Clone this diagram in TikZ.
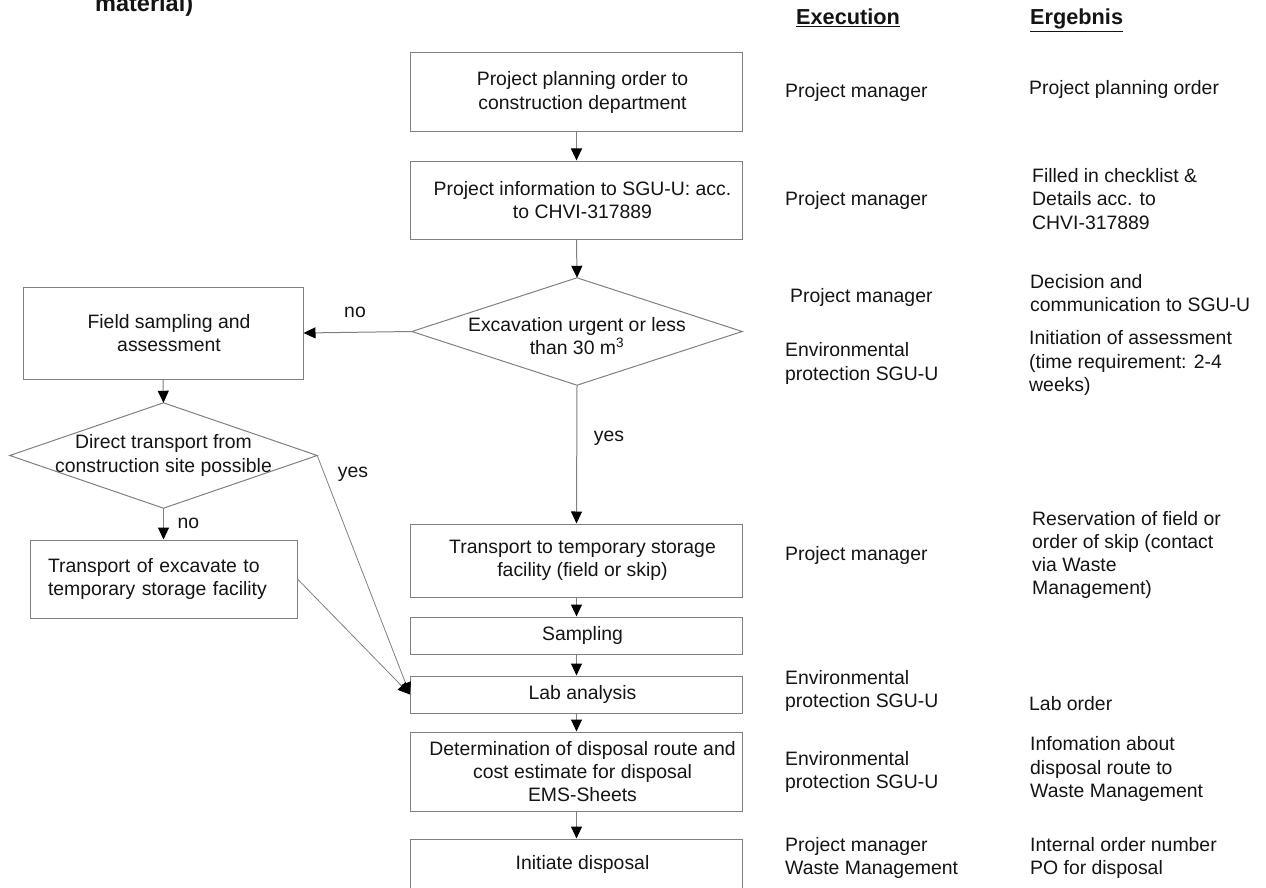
\documentclass[tikz,border=0pt]{standalone}
\usepackage{fontspec}
\setmainfont{Liberation Sans}
\usetikzlibrary{arrows.meta}
\definecolor{ln}{gray}{0.5}
\definecolor{tx}{gray}{0.08}
\newcommand\tsh{\hspace*{12pt}}
\tikzset{
  basefont/.style={font=\fontsize{19.4}{23.3}\selectfont, text=tx},
  box/.style={basefont, draw=ln, line width=1pt, minimum width=332pt, align=center, inner sep=0pt},
  dia/.style={basefont, align=center, inner sep=0pt},
  diaedge/.style={draw=ln, line width=1pt, line join=miter},
  arr/.style={draw=ln, line width=1pt, -{Triangle[length=12pt,width=11pt,color=black]}},
  conn/.style={draw=ln, line width=0.8pt, -{Triangle[length=12pt,width=11pt,color=black]}},
  lbl/.style={basefont, anchor=west, align=left, inner sep=0pt},
  tag/.style={basefont, inner sep=0pt},
  head/.style={font=\fontsize{21.7}{26}\selectfont\bfseries, text=tx, anchor=base west, inner sep=0pt}
}
\begin{document}
\begin{tikzpicture}[x=1pt,y=-1pt]
\useasboundingbox (0,0) rectangle (1266,888);
\clip (0,0) rectangle (1266,888);

% heading remnants
\node[font=\fontsize{23.5}{28}\selectfont\bfseries, text=tx, anchor=base west, inner sep=0pt] (title) at (95,11.5) {material)};
\node[head] (hexec) at (796,25) {\underline{Execution}};
\node[head] (hres) at (1030,25) {\underline{Ergebnis}};

% main column
\node[box, minimum height=79pt] (b1) at (576.5,92.5) {\tsh Project planning order to\\\tsh construction department};
\node[box, minimum height=78pt] (b2) at (576.5,200) {\tsh Project information to SGU-U: acc.\\\tsh to CHVI-317889};
\node[dia, minimum width=330pt, minimum height=107pt] (d1) at (577,331.5) {\mbox{}\\Excavation urgent or less\\than 30 m\textsuperscript{3}};
\draw[diaedge] (d1.north) -- (d1.east) -- (d1.south) -- (d1.west) -- cycle;
\node[box, minimum height=73pt] (tr) at (576.5,560.5) {\tsh Transport to temporary storage\\\tsh facility (field or skip)};
\node[box, minimum height=37pt] (samp) at (576.5,635.5) {\tsh Sampling};
\node[box, minimum height=37pt] (lab) at (576.5,694.5) {\tsh Lab analysis};
\node[box, minimum height=79pt] (det) at (576.5,771.5) {\tsh Determination of disposal route and\\\tsh cost estimate for disposal\\\tsh EMS-Sheets};
\node[box, minimum height=50pt] (init) at (576.5,864) {\tsh Initiate disposal};

% left column
\node[box, minimum width=280pt, minimum height=92pt] (field) at (163,333) {\tsh Field sampling and\\\tsh assessment};
\node[dia, minimum width=307pt, minimum height=105pt] (d2) at (163.5,455.5) {Direct transport from\\construction site possible};
\draw[diaedge] (d2.north) -- (d2.east) -- (d2.south) -- (d2.west) -- cycle;
\node[box, minimum width=267pt, minimum height=78pt, text width=231pt, align=left] (tb) at (163.5,579) {Transport of excavate to\\temporary storage facility};

% connectors
\draw[arr] (b1.south) -- (b2.north);
\draw[arr] (b2.south) -- (d1.north);
\draw[arr] (d1.south) -- (tr.north);
\draw[arr] (tr.south) -- (samp.north);
\draw[arr] (samp.south) -- (lab.north);
\draw[arr] (lab.south) -- (det.north);
\draw[arr] (det.south) -- (init.north);
\draw[arr] (d1.west) -- (field.east);
\draw[arr] (field.south) -- (d2.north);
\draw[arr] (d2.south) -- (tb.north);
\draw[conn] (d2.east) -- (lab.west);
\draw[conn] (tb.east) -- (lab.west);

% connector labels
\node[tag] (lno1) at (355,312) {no};
\node[tag] (lyes1) at (609,438) {yes};
\node[tag] (lno2) at (188.5,523) {no};
\node[tag] (lyes2) at (353,474) {yes};

% Execution column
\node[lbl] (e1) at (785,92) {Project manager};
\node[lbl] (e2) at (785,200) {Project manager};
\node[lbl] (e3) at (790,297) {Project manager};
\node[lbl] (e4) at (785,363.5) {Environmental\\protection SGU-U};
\node[lbl] (e5) at (785,555) {Project manager};
\node[lbl] (e6) at (785,691) {Environmental\\protection SGU-U};
\node[lbl] (e7) at (785,772) {Environmental\\protection SGU-U};
\node[lbl] (e8) at (785,858) {Project manager\\Waste Management};

% Ergebnis column
\node[lbl] (r1) at (1029,89) {Project planning order};
\node[lbl] (r2) at (1032,199) {Filled in checklist \&\\Details acc. to\\CHVI-317889};
\node[lbl] (r3) at (1030,293) {Decision and\\communication to SGU-U};
\node[lbl] (r4) at (1029,363) {Initiation of assessment\\(time requirement: 2-4\\weeks)};
\node[lbl] (r5) at (1032,555) {Reservation of field or\\order of skip (contact\\via Waste\\Management)};
\node[lbl] (r6) at (1029,704) {Lab order};
\node[lbl] (r7) at (1030,769) {Infomation about\\disposal route to\\Waste Management};
\node[lbl] (r8) at (1030,858) {Internal order number\\PO for disposal};
\end{tikzpicture}
\end{document}
